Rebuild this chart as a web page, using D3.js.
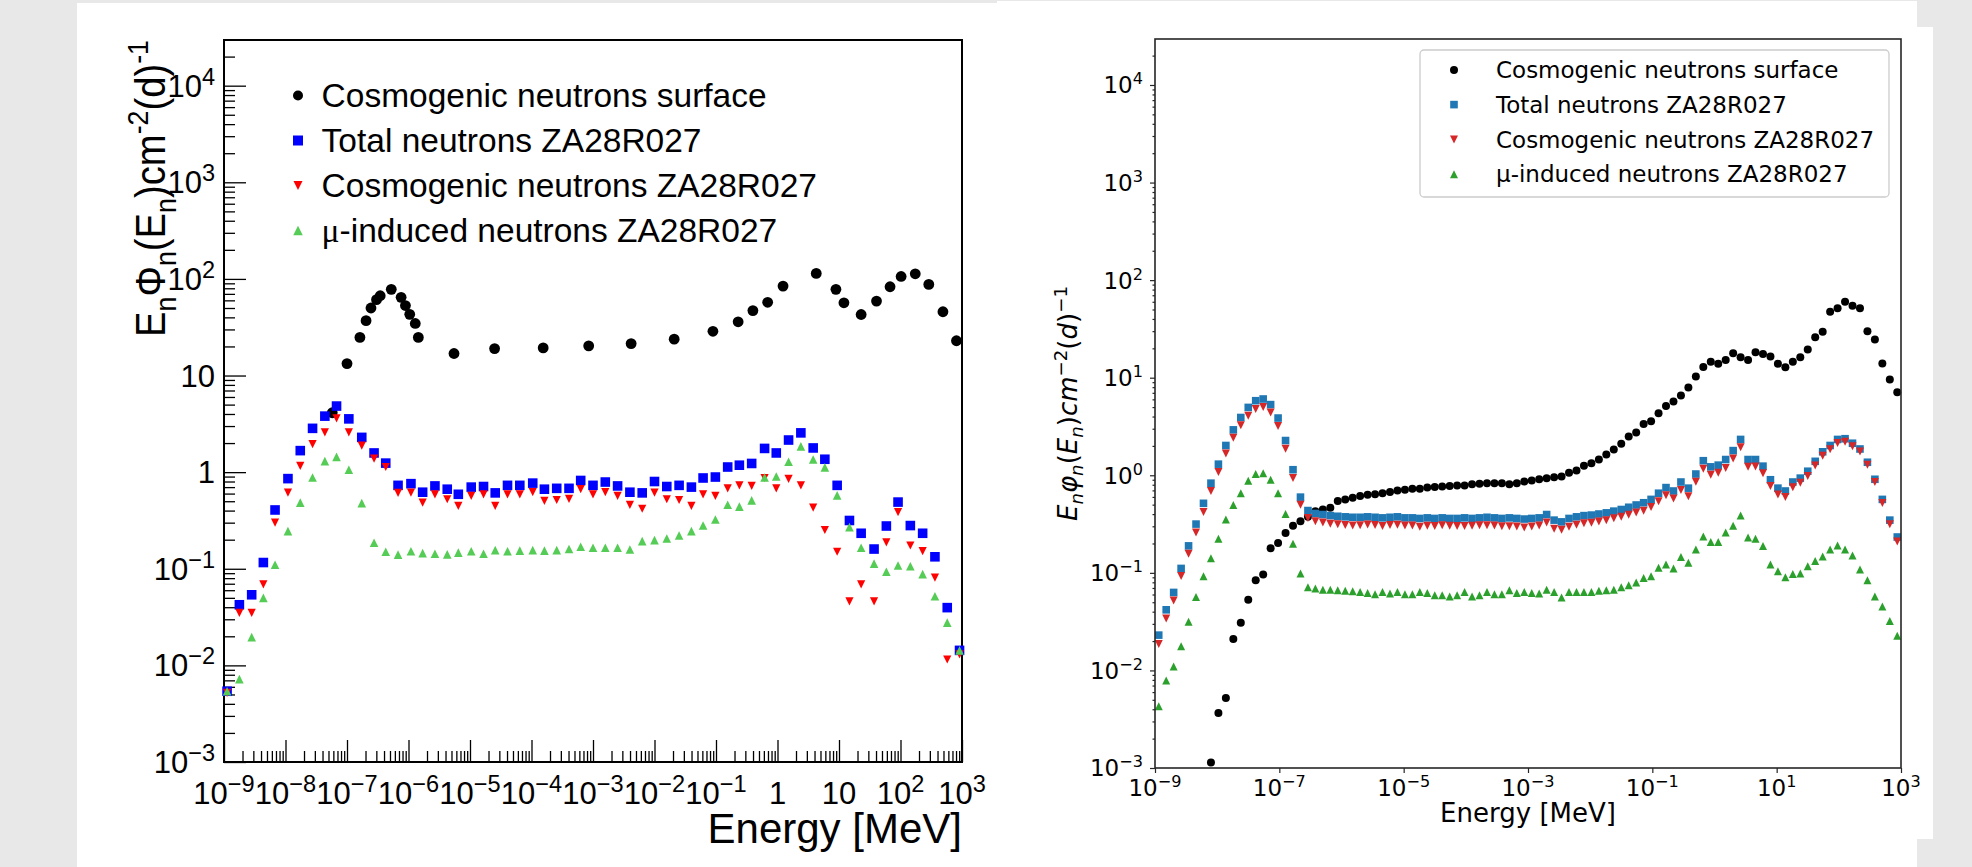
<!DOCTYPE html>
<html>
<head>
<meta charset="utf-8">
<script src="https://cdn.jsdelivr.net/npm/d3@7/dist/d3.min.js"></script>
<style>
  body { margin: 0; background: #e8e8e8; }
  svg { display: block; }
</style>
</head>
<body>
<svg id="chart" width="1972" height="867"></svg>
<script>
// ---------- data : left panel (ROOT) ----------
var seriesNames = ['Cosmogenic neutrons surface', 'Total neutrons ZA28R027',
                   'Cosmogenic neutrons ZA28R027', '\u03bc-induced neutrons ZA28R027'];

// log10(E / MeV) of the histogram points
var leftLogE = [-8.95,-8.75,-8.55,-8.36,-8.17,-7.96,-7.76,-7.56,-7.36,-7.17,-6.97,-6.76,-6.56,-6.37,-6.17,
  -5.96,-5.77,-5.57,-5.37,-5.19,-4.98,-4.78,-4.59,-4.39,-4.19,-3.98,-3.79,-3.59,-3.39,-3.20,-3.00,
  -2.80,-2.60,-2.40,-2.20,-2.00,-1.80,-1.60,-1.40,-1.21,-1.01,-0.81,-0.62,-0.42,-0.21,-0.02,0.18,
  0.38,0.58,0.77,0.97,1.17,1.36,1.57,1.77,1.96,2.16,2.36,2.56,2.76,2.96];
var leftTotal = [0.0054,0.0424,0.0538,0.116,0.406,0.857,1.67,2.84,3.80,4.83,3.56,2.29,1.58,1.24,0.73,
  0.76,0.62,0.72,0.666,0.59,0.70,0.71,0.61,0.73,0.73,0.77,0.666,0.68,0.68,0.82,0.73,
  0.79,0.72,0.62,0.61,0.80,0.71,0.73,0.70,0.87,0.89,1.13,1.18,1.23,1.76,1.58,2.15,
  2.55,1.78,1.36,0.73,0.316,0.233,0.160,0.277,0.49,0.28,0.233,0.133,0.0396,0.0143];
var leftCosmo = [0.0052,0.035,0.035,0.069,0.30,0.615,1.16,1.95,2.58,3.6,2.58,1.88,1.38,1.13,0.61,
  0.615,0.484,0.59,0.524,0.447,0.567,0.59,0.447,0.59,0.59,0.62,0.504,0.515,0.53,0.666,0.59,
  0.62,0.567,0.458,0.418,0.615,0.524,0.515,0.447,0.59,0.567,0.68,0.73,0.72,0.87,0.68,0.85,
  0.73,0.43,0.252,0.15,0.046,0.069,0.046,0.188,0.385,0.174,0.152,0.081,0.0115,0.013];
var leftMuon = [0.0054,0.0072,0.0196,0.050,0.110,0.245,0.484,0.88,1.30,1.44,1.06,0.478,0.186,0.150,0.140,
  0.152,0.145,0.143,0.141,0.147,0.152,0.143,0.156,0.152,0.154,0.156,0.154,0.156,0.16,0.169,0.165,
  0.165,0.165,0.158,0.193,0.198,0.206,0.221,0.245,0.28,0.324,0.459,0.44,0.51,0.88,0.90,1.28,
  1.85,1.35,1.12,0.575,0.27,0.165,0.113,0.093,0.108,0.106,0.088,0.052,0.0277,0.0143];
var leftSurfLogE = [-7.24,-7.00,-6.79,-6.69,-6.61,-6.52,-6.46,-6.28,-6.12,-6.05,-5.98,-5.89,-5.84,-5.26,
  -4.60,-3.81,-3.07,-2.38,-1.68,-1.05,-0.64,-0.40,-0.16,0.09,0.63,0.95,1.08,1.36,1.61,1.83,2.01,
  2.24,2.46,2.69,2.91];
var leftSurf = [4.12,13.3,24.8,37,50,61,67,78,64.5,53,43,34.6,24.8,16.9,
  19,19.3,20.3,21.4,23.8,28.7,36,47,57.3,84.3,114,78,56.6,42.8,58.9,83,106,
  113,87.7,45.7,22.9];

// ---------- data : right panel (matplotlib) ----------
var rightLogE = [-8.94,-8.82,-8.70,-8.58,-8.46,-8.34,-8.22,-8.10,-7.98,-7.86,
  -7.74,-7.62,-7.50,-7.38,-7.26,-7.14,-7.02,-6.90,-6.78,-6.66,
  -6.54,-6.42,-6.30,-6.18,-6.06,-5.94,-5.82,-5.70,-5.58,-5.46,
  -5.34,-5.22,-5.10,-4.98,-4.86,-4.74,-4.62,-4.50,-4.38,-4.26,
  -4.14,-4.02,-3.90,-3.78,-3.66,-3.54,-3.42,-3.30,-3.18,-3.06,
  -2.94,-2.82,-2.70,-2.58,-2.46,-2.34,-2.22,-2.10,-1.98,-1.86,
  -1.74,-1.62,-1.50,-1.38,-1.26,-1.14,-1.02,-0.90,-0.78,-0.66,
  -0.54,-0.42,-0.30,-0.18,-0.06,0.06,0.18,0.30,0.42,0.54,
  0.66,0.78,0.90,1.02,1.14,1.26,1.38,1.50,1.62,1.74,
  1.86,1.98,2.10,2.22,2.34,2.46,2.58,2.70,2.82,2.94];
var rightSurf = [null,null,null,null,null,null,null,0.00114,0.00366,0.00523,
  0.021,0.0308,0.053,0.0842,0.096,0.179,0.202,0.256,0.304,0.338,
  0.376,0.429,0.446,0.464,0.544,0.566,0.589,0.612,0.630,0.638,
  0.655,0.673,0.700,0.709,0.728,0.728,0.748,0.758,0.768,0.777,
  0.787,0.787,0.808,0.818,0.829,0.829,0.829,0.808,0.829,0.862,
  0.885,0.908,0.932,0.956,0.969,1.06,1.12,1.25,1.33,1.45,
  1.63,1.84,2.10,2.50,2.74,3.35,3.57,4.32,5.13,5.70,
  6.59,7.93,10.3,12.9,14.6,13.9,15.2,17.8,16.2,15.2,
  18.2,17.5,16.5,13.9,12.8,14.6,16.2,19.5,26.0,29.6,
  47.5,51.6,59.9,54.6,51.6,29.9,24.6,14.0,9.6,7.1];
var rightTotal = [0.023,0.0418,0.063,0.111,0.189,0.316,0.516,0.83,1.30,2.02,
  2.92,3.91,4.96,5.81,6.05,5.30,3.86,2.27,1.14,0.597,
  0.435,0.406,0.396,0.386,0.380,0.375,0.371,0.371,0.375,0.371,
  0.366,0.371,0.375,0.366,0.366,0.361,0.366,0.361,0.366,0.361,
  0.361,0.366,0.361,0.366,0.371,0.366,0.361,0.366,0.361,0.356,
  0.361,0.366,0.396,0.347,0.333,0.361,0.375,0.386,0.391,0.401,
  0.412,0.429,0.446,0.470,0.496,0.523,0.566,0.655,0.748,0.690,
  0.853,0.738,1.03,1.41,1.22,1.27,1.45,1.79,2.33,1.45,
  1.45,1.24,0.90,0.738,0.690,0.853,0.935,1.10,1.39,1.74,
  2.02,2.33,2.37,2.13,1.86,1.36,0.91,0.566,0.347,0.233];
var rightCosmo = [0.0187,0.034,0.052,0.093,0.157,0.259,0.42,0.69,1.08,1.67,
  2.42,3.25,4.08,4.78,5.0,4.40,3.2,1.87,0.94,0.50,
  0.364,0.337,0.329,0.319,0.314,0.31,0.306,0.307,0.313,0.31,
  0.302,0.31,0.311,0.305,0.305,0.297,0.304,0.302,0.307,0.304,
  0.302,0.302,0.304,0.307,0.307,0.305,0.30,0.30,0.299,0.292,
  0.299,0.305,0.329,0.283,0.277,0.297,0.311,0.322,0.327,0.335,
  0.346,0.362,0.375,0.395,0.416,0.434,0.473,0.542,0.626,0.579,
  0.708,0.611,0.856,1.17,1.01,1.06,1.19,1.49,1.94,1.22,
  1.23,1.05,0.778,0.634,0.60,0.755,0.836,0.983,1.26,1.59,
  1.85,2.14,2.20,1.98,1.75,1.28,0.853,0.521,0.315,0.21];
var rightMuon = [0.0043,0.0079,0.011,0.0177,0.0316,0.0566,0.0925,0.141,0.224,0.352,
  0.496,0.655,0.877,1.03,1.05,0.90,0.655,0.40,0.199,0.0986,
  0.071,0.0693,0.0673,0.0673,0.0664,0.0655,0.0646,0.0638,0.0621,0.0605,
  0.0638,0.0613,0.0638,0.0605,0.0605,0.0638,0.0621,0.0589,0.0589,0.0574,
  0.0589,0.0638,0.0574,0.0589,0.0638,0.0605,0.0605,0.0664,0.0621,0.0638,
  0.0621,0.0613,0.0673,0.0638,0.0559,0.0638,0.0638,0.0638,0.0638,0.0655,
  0.0664,0.0673,0.071,0.0748,0.0798,0.0888,0.0925,0.113,0.122,0.111,
  0.145,0.127,0.174,0.236,0.207,0.207,0.259,0.304,0.386,0.230,
  0.224,0.189,0.122,0.104,0.090,0.0975,0.0986,0.117,0.132,0.147,
  0.174,0.191,0.174,0.151,0.108,0.0841,0.0574,0.0452,0.0321,0.0227];

var leftXDecades = [-9,-8,-7,-6,-5,-4,-3,-2,-1,0,1,2,3];
var leftYDecades = [-3,-2,-1,0,1,2,3,4];
var rightXDecades = [-9,-7,-5,-3,-1,1,3];
var rightYDecades = [-3,-2,-1,0,1,2,3,4];

// ---------- helpers ----------
var svg = d3.select('#chart');
var ROOTFONT = '"Liberation Sans", Arial, Helvetica, sans-serif';
var MPLFONT = '"DejaVu Sans", sans-serif';

function pow10(e) { return Math.pow(10, e); }

// parts: [text, 'sub'|'sup'|'', extra attrs]
function richText(sel, parts, base, opt) {
	var shift = 0;
	parts.forEach(function(p) {
		var target = p[1] == 'sub' ? opt.sub : (p[1] == 'sup' ? -opt.sup : 0);
		var ts = sel.append('tspan').text(p[0]).attr('dy', target - shift);
		if (p[1]) ts.attr('font-size', base * opt.scale);
		if (p[2]) {
			for (var k in p[2]) ts.attr(k, p[2][k]);
		}
		shift = target;
	});
}

function shapePath(type, s) {
	var p = d3.path();
	if (type == 'circle') {
		p.arc(0, 0, s, 0, 2 * Math.PI);
	} else if (type == 'square') {
		p.rect(-s / 2, -s / 2, s, s);
	} else if (type == 'up') {
		p.moveTo(0, -s / 2); p.lineTo(s / 2, s / 2); p.lineTo(-s / 2, s / 2); p.closePath();
	} else {
		p.moveTo(0, s / 2); p.lineTo(s / 2, -s / 2); p.lineTo(-s / 2, -s / 2); p.closePath();
	}
	return p.toString();
}

function plotSeries(g, xs, ys, xs_, ys_, type, size, color) {
	var pts = d3.zip(xs, ys).filter(function(d) { return d[1] != null; });
	g.append('g').selectAll('path').data(pts).join('path')
		.attr('transform', function(d) { return 'translate(' + xs_(pow10(d[0])) + ',' + ys_(d[1]) + ')'; })
		.attr('d', shapePath(type, size))
		.attr('fill', color);
}

function minorTicks(kmin, kmax, lo, hi) {
	var out = [];
	for (var k = kmin; k <= kmax; k++)
		for (var m = 2; m < 10; m++) {
			var v = m * pow10(k);
			if (v > lo && v < hi) out.push(v);
		}
	return out;
}

// ---------- backgrounds ----------
svg.append('rect').attr('width', 1972).attr('height', 867).attr('fill', '#e8e8e8');
svg.append('rect').attr('x', 77).attr('y', 3).attr('width', 921).attr('height', 864).attr('fill', '#fff');
svg.append('rect').attr('x', 997).attr('y', 1).attr('width', 920).attr('height', 866).attr('fill', '#fff');
svg.append('rect').attr('x', 1916).attr('y', 27).attr('width', 17).attr('height', 812).attr('fill', '#fff');

// =====================================================================
// LEFT : ROOT style
// =====================================================================
var L = { x0: 224, x1: 962, y0: 40, y1: 762 };
var yTopL = 2.97e4;
var xL = d3.scaleLog().domain([1e-9, 1e3]).range([L.x0, L.x1]);
var yL = d3.scaleLog().domain([1e-3, yTopL]).range([L.y1, L.y0]);
var gL = svg.append('g');

function rootLabel(k) {
	if (k == 0) return [['1', '']];
	if (k == 1) return [['10', '']];
	return [['10', ''], [(k < 0 ? '\u2212' + (-k) : String(k)), 'sup']];
}
var rootOpt = { scale: 0.76, sup: 12, sub: 7 };

// ticks (inside)
gL.append('g').attr('transform', 'translate(0,' + L.y1 + ')')
	.call(d3.axisBottom(xL).tickValues(leftXDecades.map(pow10)).tickSize(-22).tickFormat(''));
gL.append('g').attr('transform', 'translate(0,' + L.y1 + ')')
	.call(d3.axisBottom(xL).tickValues(minorTicks(-9, 2, 1e-9, 1e3)).tickSize(-11).tickFormat(''));
gL.append('g').attr('transform', 'translate(' + L.x0 + ',0)')
	.call(d3.axisLeft(yL).tickValues(leftYDecades.map(pow10)).tickSize(-22).tickFormat(''));
gL.append('g').attr('transform', 'translate(' + L.x0 + ',0)')
	.call(d3.axisLeft(yL).tickValues(minorTicks(-3, 4, 1e-3, yTopL)).tickSize(-11).tickFormat(''));
gL.selectAll('.domain').remove();
gL.selectAll('.tick line').attr('stroke', '#000').attr('stroke-width', 1.3);

// tick labels
leftXDecades.forEach(function(k) {
	var t = gL.append('text').attr('x', xL(pow10(k))).attr('y', 804)
		.attr('text-anchor', 'middle').attr('font-family', ROOTFONT).attr('font-size', 31);
	richText(t, rootLabel(k), 31, rootOpt);
});
leftYDecades.forEach(function(k) {
	var t = gL.append('text').attr('x', L.x0 - 9).attr('y', yL(pow10(k)) + 11)
		.attr('text-anchor', 'end').attr('font-family', ROOTFONT).attr('font-size', 31);
	richText(t, rootLabel(k), 31, rootOpt);
});

// frame
gL.append('rect').attr('x', L.x0).attr('y', L.y0).attr('width', L.x1 - L.x0).attr('height', L.y1 - L.y0)
	.attr('fill', 'none').attr('stroke', '#000').attr('stroke-width', 2);

// markers
plotSeries(gL, leftSurfLogE, leftSurf, xL, yL, 'circle', 5.4, '#000');
plotSeries(gL, leftLogE, leftTotal, xL, yL, 'square', 9.6, '#0000ff');
plotSeries(gL, leftLogE, leftCosmo, xL, yL, 'down', 8.2, '#ff0000');
plotSeries(gL, leftLogE, leftMuon, xL, yL, 'up', 8.6, '#55cc55');

// axis titles
gL.append('text').attr('x', L.x1).attr('y', 843).attr('text-anchor', 'end')
	.attr('font-family', ROOTFONT).attr('font-size', 42).text('Energy [MeV]');

var yt = gL.append('text').attr('text-anchor', 'end')
	.attr('font-family', ROOTFONT).attr('font-size', 43);
richText(yt, [['E', ''], ['n', 'sub'], ['\u03a6', ''], ['n', 'sub'], ['(E', ''], ['n', 'sub'],
	[')cm', ''], ['-2', 'sup'], ['(d)', ''], ['-1', 'sup']], 43, { scale: 0.7, sup: 17, sub: 11 });
var ylen = yt.node().getBBox().width;
yt.attr('transform', 'translate(165,40) rotate(-90) scale(' + (297 / ylen) + ',1)');

// legend
var legL = gL.append('g');
var legLTypes = [['circle', 5, '#000'], ['square', 10, '#0000ff'], ['down', 9, '#ff0000'], ['up', 9.5, '#55cc55']];
[107, 152, 197, 242].forEach(function(by, i) {
	legL.append('path').attr('transform', 'translate(298,' + (by - 11.5) + ')')
		.attr('d', shapePath(legLTypes[i][0], legLTypes[i][1])).attr('fill', legLTypes[i][2]);
	var t = legL.append('text').attr('x', 321.6).attr('y', by)
		.attr('font-family', ROOTFONT).attr('font-size', 33.5);
	if (i == 3) {
		t.append('tspan').attr('font-family', '"Liberation Serif", serif').text('\u03bc');
		t.append('tspan').text(seriesNames[i].slice(1));
	} else {
		t.text(seriesNames[i]);
	}
});

// =====================================================================
// RIGHT : matplotlib style
// =====================================================================
var R = { x0: 1155, x1: 1901, y0: 39, y1: 768 };
var yTopR = 2.96e4;
var xR = d3.scaleLog().domain([1e-9, 1e3]).range([R.x0, R.x1]);
var yR = d3.scaleLog().domain([1e-3, yTopR]).range([R.y1, R.y0]);
var gR = svg.append('g');
var mplOpt = { scale: 0.7, sup: 9, sub: 5 };
function mplLabel(k) { return [['10', ''], [(k < 0 ? '\u2212' + (-k) : String(k)), 'sup']]; }

gR.append('g').attr('transform', 'translate(0,' + R.y1 + ')')
	.call(d3.axisBottom(xR).tickValues(rightXDecades.map(pow10)).tickSize(5).tickFormat(''));
gR.append('g').attr('transform', 'translate(' + R.x0 + ',0)')
	.call(d3.axisLeft(yR).tickValues(rightYDecades.map(pow10)).tickSize(5).tickFormat(''));
gR.append('g').attr('transform', 'translate(' + R.x0 + ',0)')
	.call(d3.axisLeft(yR).tickValues(minorTicks(-3, 4, 1e-3, yTopR)).tickSize(2.5).tickFormat(''));
gR.selectAll('.domain').remove();
gR.selectAll('.tick line').attr('stroke', '#262626').attr('stroke-width', 1.2);

rightXDecades.forEach(function(k) {
	var t = gR.append('text').attr('x', xR(pow10(k))).attr('y', 796)
		.attr('text-anchor', 'middle').attr('font-family', MPLFONT).attr('font-size', 23);
	richText(t, mplLabel(k), 23, mplOpt);
});
rightYDecades.forEach(function(k) {
	var t = gR.append('text').attr('x', R.x0 - 12).attr('y', yR(pow10(k)) + 8.4)
		.attr('text-anchor', 'end').attr('font-family', MPLFONT).attr('font-size', 23);
	richText(t, mplLabel(k), 23, mplOpt);
});

// markers
plotSeries(gR, rightLogE, rightSurf, xR, yR, 'circle', 4, '#000');
plotSeries(gR, rightLogE, rightTotal, xR, yR, 'square', 7.6, '#1f77b4');
plotSeries(gR, rightLogE, rightCosmo, xR, yR, 'down', 8, '#d62728');
plotSeries(gR, rightLogE, rightMuon, xR, yR, 'up', 8, '#2ca02c');

gR.append('rect').attr('x', R.x0).attr('y', R.y0).attr('width', R.x1 - R.x0).attr('height', R.y1 - R.y0)
	.attr('fill', 'none').attr('stroke', '#262626').attr('stroke-width', 1.6);

// axis titles
gR.append('text').attr('x', (R.x0 + R.x1) / 2).attr('y', 822).attr('text-anchor', 'middle')
	.attr('font-family', MPLFONT).attr('font-size', 26).text('Energy [MeV]');

var it = { 'font-style': 'italic' };
var yr = gR.append('text').attr('text-anchor', 'middle').attr('font-family', MPLFONT).attr('font-size', 26)
	.attr('transform', 'translate(1077,' + ((R.y0 + R.y1) / 2) + ') rotate(-90)');
richText(yr, [['E', '', it], ['n', 'sub', it], ['\u03c6', '', it], ['n', 'sub', it], ['(', ''], ['E', '', it],
	['n', 'sub', it], [')', ''], ['cm', '', it], ['\u22122', 'sup'], ['(', ''], ['d', '', it], [')', ''],
	['\u22121', 'sup']], 26, { scale: 0.7, sup: 10, sub: 6 });

// legend
var legR = gR.append('g');
legR.append('rect').attr('x', 1420).attr('y', 50).attr('width', 469).attr('height', 147).attr('rx', 4)
	.attr('fill', '#fff').attr('fill-opacity', 0.8).attr('stroke', '#cccccc').attr('stroke-width', 1.3);
var legRTypes = [['circle', 4, '#000'], ['square', 7.6, '#1f77b4'], ['down', 8, '#d62728'], ['up', 8, '#2ca02c']];
[70, 104.6, 139.4, 174.2].forEach(function(cy, i) {
	legR.append('path').attr('transform', 'translate(1454,' + cy + ')')
		.attr('d', shapePath(legRTypes[i][0], legRTypes[i][1])).attr('fill', legRTypes[i][2]);
	legR.append('text').attr('x', 1496).attr('y', cy + 8.2)
		.attr('font-family', MPLFONT).attr('font-size', 23).attr('fill', '#000').text(seriesNames[i]);
});
</script>
</body>
</html>
